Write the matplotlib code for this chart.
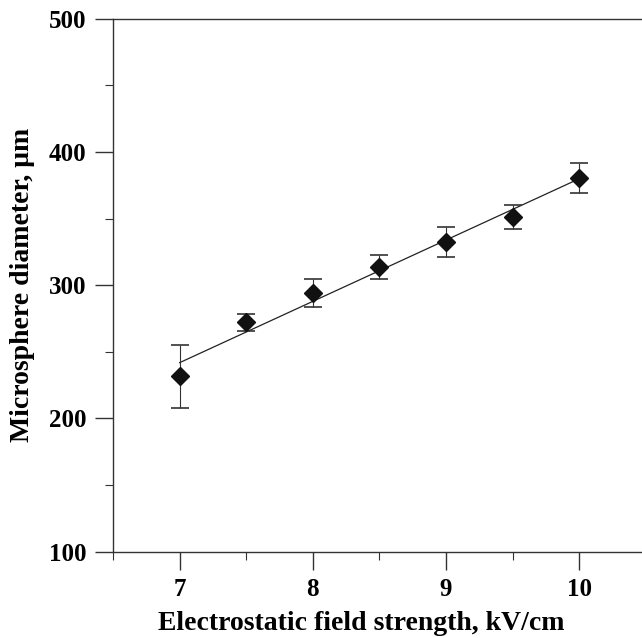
import numpy as np
import matplotlib
matplotlib.use("Agg")
import matplotlib.pyplot as plt
from matplotlib.ticker import MultipleLocator

# field strength (kV/cm) vs microsphere diameter (um), with error bars
field = [7.0, 7.5, 8.0, 8.5, 9.0, 9.5, 10.0]
diameter = [231.5, 272.2, 294.0, 313.7, 332.7, 351.5, 380.5]
err = [23.4, 6.5, 10.5, 9.3, 11.3, 9.0, 11.3]

plt.rcParams['font.family'] = ['Liberation Serif', 'DejaVu Serif']
plt.rcParams['font.weight'] = 'bold'

fig = plt.figure(figsize=(6.42, 6.38), dpi=100)
ax = fig.add_axes([0.176, 0.1353, 0.830, 0.8354])

# linear fit through the measurements
k, b = np.polyfit(field, diameter, 1)
xf = np.array([field[0], field[-1]])
ax.plot(xf, k * xf + b, color='#222222', lw=0.9, zorder=2)

ax.errorbar(field, diameter, yerr=err, fmt='none', ecolor='#333333',
            elinewidth=0.8, capsize=6.5, capthick=1.2, zorder=3)
ax.plot(field, diameter, 'D', color='#111111', ms=9, zorder=4)

ax.set_xlim(6.5, 10.5)
ax.set_ylim(100, 500)
ax.xaxis.set_major_locator(MultipleLocator(1))
ax.xaxis.set_minor_locator(MultipleLocator(0.5))
ax.yaxis.set_major_locator(MultipleLocator(100))
ax.yaxis.set_minor_locator(MultipleLocator(50))

ax.tick_params(which='major', direction='out', length=13, width=1.0,
               labelsize=18, pad=6, color='#333333')
ax.tick_params(which='minor', direction='out', length=6, width=0.8,
               color='#333333')
ax.tick_params(top=False, right=False, which='both')
for side in ['left', 'bottom', 'top', 'right']:
    ax.spines[side].set_linewidth(1.0)
    ax.spines[side].set_color('#333333')

for lab in ax.get_xticklabels() + ax.get_yticklabels():
    lab.set_fontweight('bold')

ax.set_xlabel('Electrostatic field strength, kV/cm', fontsize=20,
              fontweight='bold')
ax.xaxis.set_label_coords(0.465, -0.112)
ax.set_ylabel('Microsphere diameter, \u03bcm', fontsize=20,
              fontweight='bold', labelpad=10)

fig.savefig('out.png', dpi=100)
